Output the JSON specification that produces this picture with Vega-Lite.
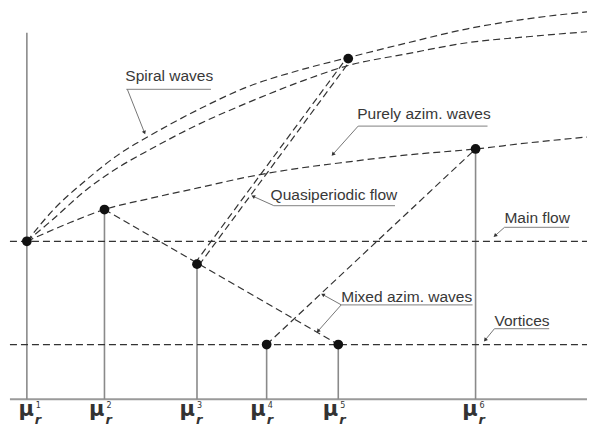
{
  "$schema": "https://vega.github.io/schema/vega-lite/v6.json",
  "width": 590,
  "height": 427,
  "autosize": {"type": "fit", "contains": "padding"},
  "padding": 0,
  "background": "white",
  "config": {"view": {"stroke": null}},
  "datasets": {
    "curves": [
      {"id": "spiralUp", "x": 27, "y": 243}, {"id": "spiralUp", "x": 53, "y": 212}, {"id": "spiralUp", "x": 87, "y": 181}, {"id": "spiralUp", "x": 120, "y": 155}, {"id": "spiralUp", "x": 150, "y": 137}, {"id": "spiralUp", "x": 200, "y": 110}, {"id": "spiralUp", "x": 250, "y": 87}, {"id": "spiralUp", "x": 300, "y": 71}, {"id": "spiralUp", "x": 350, "y": 58}, {"id": "spiralUp", "x": 410, "y": 43}, {"id": "spiralUp", "x": 470, "y": 29}, {"id": "spiralUp", "x": 530, "y": 19}, {"id": "spiralUp", "x": 590, "y": 12},
      {"id": "spiralLow", "x": 27, "y": 243}, {"id": "spiralLow", "x": 53, "y": 221}, {"id": "spiralLow", "x": 87, "y": 191}, {"id": "spiralLow", "x": 120, "y": 168}, {"id": "spiralLow", "x": 150, "y": 151}, {"id": "spiralLow", "x": 200, "y": 125}, {"id": "spiralLow", "x": 250, "y": 103}, {"id": "spiralLow", "x": 300, "y": 83}, {"id": "spiralLow", "x": 350, "y": 66}, {"id": "spiralLow", "x": 410, "y": 54}, {"id": "spiralLow", "x": 470, "y": 43}, {"id": "spiralLow", "x": 530, "y": 37}, {"id": "spiralLow", "x": 590, "y": 32},
      {"id": "purely", "x": 27, "y": 243}, {"id": "purely", "x": 66, "y": 226}, {"id": "purely", "x": 105, "y": 211}, {"id": "purely", "x": 150, "y": 200}, {"id": "purely", "x": 200, "y": 189}, {"id": "purely", "x": 250, "y": 178}, {"id": "purely", "x": 290, "y": 171}, {"id": "purely", "x": 350, "y": 163}, {"id": "purely", "x": 410, "y": 156}, {"id": "purely", "x": 478, "y": 150}, {"id": "purely", "x": 530, "y": 144}, {"id": "purely", "x": 590, "y": 138},
      {"id": "main", "x": 10, "y": 243}, {"id": "main", "x": 590, "y": 243},
      {"id": "vortices", "x": 10, "y": 347}, {"id": "vortices", "x": 590, "y": 347},
      {"id": "m2m5", "x": 105, "y": 211}, {"id": "m2m5", "x": 340, "y": 347},
      {"id": "mixed", "x": 268, "y": 347}, {"id": "mixed", "x": 478, "y": 150},
      {"id": "quasiA", "x": 196, "y": 265}, {"id": "quasiA", "x": 348, "y": 59},
      {"id": "quasiB", "x": 200, "y": 267}, {"id": "quasiB", "x": 352, "y": 61}
    ],
    "stems": [
      {"x": 27, "y": 33, "y2": 402},
      {"x": 105, "y": 211, "y2": 402},
      {"x": 198, "y": 266, "y2": 402},
      {"x": 268, "y": 347, "y2": 402},
      {"x": 340, "y": 347, "y2": 402},
      {"x": 478, "y": 150, "y2": 402}
    ],
    "baseline": [{"x": 10, "x2": 590, "y": 402}],
    "points": [
      {"x": 27, "y": 243}, {"x": 105, "y": 211}, {"x": 198, "y": 266}, {"x": 268, "y": 347},
      {"x": 340, "y": 347}, {"x": 478, "y": 150}, {"x": 350, "y": 59}
    ],
    "labels": [
      {"text": "Spiral waves", "x": 126, "y": 82},
      {"text": "Purely azim. waves", "x": 359, "y": 120},
      {"text": "Quasiperiodic flow", "x": 272, "y": 201},
      {"text": "Main flow", "x": 507, "y": 225},
      {"text": "Mixed azim. waves", "x": 343, "y": 304},
      {"text": "Vortices", "x": 497, "y": 328}
    ],
    "underlines": [
      {"x": 127, "x2": 212, "y": 90},
      {"x": 360, "x2": 490, "y": 127},
      {"x": 275, "x2": 397, "y": 207},
      {"x": 507, "x2": 572, "y": 229},
      {"x": 343, "x2": 475, "y": 307},
      {"x": 497, "x2": 552, "y": 331}
    ],
    "leaders": [
      {"x": 128, "y": 90, "x2": 145, "y2": 133},
      {"x": 360, "y": 127, "x2": 335, "y2": 155},
      {"x": 275, "y": 207, "x2": 255, "y2": 198},
      {"x": 507, "y": 229, "x2": 498, "y2": 237},
      {"x": 343, "y": 307, "x2": 325, "y2": 297},
      {"x": 343, "y": 307, "x2": 320, "y2": 333},
      {"x": 497, "y": 331, "x2": 488, "y2": 342}
    ],
    "mu": [
      {"n": "1", "x": 28},
      {"n": "2", "x": 99},
      {"n": "3", "x": 190},
      {"n": "4", "x": 261},
      {"n": "5", "x": 334},
      {"n": "6", "x": 474}
    ]
  },
  "encoding": {
    "x": {"field": "x", "type": "quantitative", "scale": {"domain": [0, 590], "nice": false, "zero": false}, "axis": null},
    "y": {"field": "y", "type": "quantitative", "scale": {"domain": [0, 427], "nice": false, "zero": false, "reverse": true}, "axis": null}
  },
  "layer": [
    {
      "data": {"name": "baseline"},
      "mark": {"type": "rule", "color": "#9a9a9a", "strokeWidth": 2},
      "encoding": {"x2": {"field": "x2"}}
    },
    {
      "data": {"name": "stems"},
      "mark": {"type": "rule", "color": "#8a8a8a", "strokeWidth": 1.6},
      "encoding": {"y2": {"field": "y2"}}
    },
    {
      "data": {"name": "curves"},
      "mark": {"type": "line", "color": "#333333", "strokeWidth": 1.2, "strokeDash": [7, 4], "interpolate": "monotone"},
      "encoding": {"detail": {"field": "id"}, "order": {"field": "x", "type": "quantitative"}}
    },
    {
      "data": {"name": "underlines"},
      "mark": {"type": "rule", "color": "#9a9a9a", "strokeWidth": 1.2},
      "encoding": {"x2": {"field": "x2"}}
    },
    {
      "data": {"name": "leaders"},
      "mark": {"type": "rule", "color": "#777777", "strokeWidth": 1},
      "encoding": {"x2": {"field": "x2"}, "y2": {"field": "y2"}}
    },
    {
      "data": {"name": "leaders"},
      "transform": [{"calculate": "atan2(datum.x2 - datum.x, datum.y2 - datum.y) * 180 / PI", "as": "ang"}, {"calculate": "180 - datum.ang", "as": "rot"}],
      "mark": {"type": "point", "shape": "triangle", "filled": true, "color": "#333333", "size": 18, "opacity": 1},
      "encoding": {
        "x": {"field": "x2", "type": "quantitative"},
        "y": {"field": "y2", "type": "quantitative"},
        "angle": {"field": "rot", "type": "quantitative", "scale": null}
      }
    },
    {
      "data": {"name": "points"},
      "mark": {"type": "circle", "color": "#111111", "size": 95, "opacity": 1}
    },
    {
      "data": {"name": "labels"},
      "mark": {"type": "text", "align": "left", "baseline": "alphabetic", "font": "Liberation Sans", "fontSize": 15.5, "color": "#383838"},
      "encoding": {"text": {"field": "text"}}
    },
    {
      "data": {"name": "mu"},
      "transform": [{"calculate": "419", "as": "y"}],
      "mark": {"type": "text", "align": "right", "baseline": "alphabetic", "font": "DejaVu Sans", "fontSize": 21, "fontWeight": "bold", "color": "#333333", "dx": 6, "text": "μ"}
    },
    {
      "data": {"name": "mu"},
      "transform": [{"calculate": "411", "as": "y"}],
      "mark": {"type": "text", "align": "left", "baseline": "alphabetic", "font": "DejaVu Sans", "fontSize": 8, "color": "#333333", "dx": 8},
      "encoding": {"text": {"field": "n"}}
    },
    {
      "data": {"name": "mu"},
      "transform": [{"calculate": "427", "as": "y"}],
      "mark": {"type": "text", "align": "left", "baseline": "alphabetic", "font": "DejaVu Sans", "fontSize": 13, "fontStyle": "italic", "fontWeight": "bold", "color": "#333333", "dx": 7, "text": "r"}
    }
  ]
}
